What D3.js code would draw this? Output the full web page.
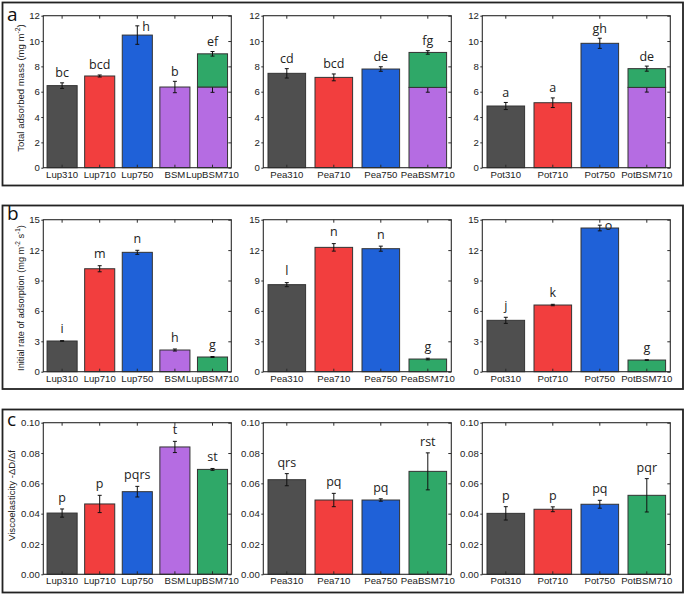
<!DOCTYPE html>
<html><head><meta charset="utf-8">
<script src="https://cdn.jsdelivr.net/npm/d3@7"></script>
<style>
html,body{margin:0;padding:0;background:#fff;}
svg{display:block;}
</style></head>
<body>
<svg id="chart" width="685" height="596"></svg>
<script>
// ---------------- DATA ----------------
const lupCats = ["Lup310", "Lup710", "Lup750", "BSM", "LupBSM710"];
const peaCats = ["Pea310", "Pea710", "Pea750", "PeaBSM710"];
const potCats = ["Pot310", "Pot710", "Pot750", "PotBSM710"];

// (a) Total adsorbed mass (mg m-2)
const massLup = [6.48, 7.24, 10.47, 6.37, 8.99];
const massLupErr = [0.22, 0.08, 0.73, 0.45, 0.18];
const massPea = [7.45, 7.13, 7.79, 9.10];
const massPeaErr = [0.37, 0.27, 0.18, 0.14];
const massPot = [4.87, 5.13, 9.82, 7.82];
const massPotErr = [0.28, 0.38, 0.40, 0.20];
// BSM share of the stacked BSM710 mixtures (Lup, Pea, Pot)
const massMixBSM = [6.37, 6.34, 6.34];
const massMixBSMErr = [0.42, 0.38, 0.37];
const massLupLetters = ["bc", "bcd", "h", "b", "ef"];
const massPeaLetters = ["cd", "bcd", "de", "fg"];
const massPotLetters = ["a", "a", "gh", "de"];

// (b) Initial rate of adsorption (mg m-2 s-1)
const rateLup = [3.03, 10.16, 11.78, 2.14, 1.45];
const rateLupErr = [0.03, 0.30, 0.20, 0.10, 0.05];
const ratePea = [8.59, 12.27, 12.14, 1.25];
const ratePeaErr = [0.20, 0.37, 0.25, 0.08];
const ratePot = [5.07, 6.58, 14.18, 1.15];
const ratePotErr = [0.30, 0.07, 0.28, 0.03];
const rateLupLetters = ["i", "m", "n", "h", "g"];
const ratePeaLetters = ["l", "n", "n", "g"];
const ratePotLetters = ["j", "k", "o", "g"];

// (c) Viscoelasticity -ΔD/Δf
const viscoLup = [0.0404, 0.0464, 0.0545, 0.0840, 0.0692];
const viscoLupErr = [0.0027, 0.0057, 0.0035, 0.0037, 0.0006];
const viscoPea = [0.0624, 0.0490, 0.0490, 0.0679];
const viscoPeaErr = [0.0040, 0.0044, 0.0008, 0.0122];
const viscoPot = [0.0402, 0.0429, 0.0462, 0.0521];
const viscoPotErr = [0.0044, 0.0016, 0.0026, 0.0110];
const viscoLupLetters = ["p", "p", "pqrs", "t", "st"];
const viscoPeaLetters = ["qrs", "pq", "pq", "rst"];
const viscoPotLetters = ["p", "p", "pq", "pqr"];

// tick values
const massTicks = [0, 2, 4, 6, 8, 10, 12];
const rateTicks = [0, 3, 6, 9, 12, 15];
const viscoTicks = [0, 0.02, 0.04, 0.06, 0.08, 0.10];

// ---------------- STYLE / LAYOUT ----------------
const palette = {"310": "#4f4f4f", "710": "#f23e3e", "750": "#1f61d8", "BSM": "#b56ce2", "BSM710": "#2fa868"};
function colorOf(cat) {
  if (/BSM710$/.test(cat)) return palette.BSM710;
  if (cat === "BSM") return palette.BSM;
  return palette[cat.slice(-3)];
}
const cols = [[43.3, 231.3], [263.3, 451.3], [482.3, 670.3]];
const catsByCol = [lupCats, peaCats, potCats];

const rows = [
  {letter: "a", box: [2.5, 185.5], plot: [15.7, 167.7], letterY: 20.5, domain: [0, 12], ticks: massTicks, fmt: d3.format("d"),
   vals: [massLup, massPea, massPot], errs: [massLupErr, massPeaErr, massPotErr],
   letters: [massLupLetters, massPeaLetters, massPotLetters], stacked: true,
   labelX: 23.5, labelY: 88, labelParts: [["Total adsorbed mass (mg m", 0], ["-2", 1], [")", 0]], labelSize: 9.6, gap: 5.5},
  {letter: "b", box: [205.5, 389], plot: [219.7, 371.7], letterY: 219.5, domain: [0, 15], ticks: rateTicks, fmt: d3.format("d"),
   vals: [rateLup, ratePea, ratePot], errs: [rateLupErr, ratePeaErr, ratePotErr],
   letters: [rateLupLetters, ratePeaLetters, ratePotLetters], stacked: false,
   labelX: 23.5, labelY: 298, labelParts: [["Initial rate of adsorption (mg m", 0], ["-2", 1], [" s", 0], ["-1", 1], [")", 0]], labelSize: 9.2, gap: 7.5},
  {letter: "c", box: [409.5, 592.5], plot: [422.7, 574.3], letterY: 425.5, domain: [0, 0.1], ticks: viscoTicks, fmt: d3.format(".2f"),
   vals: [viscoLup, viscoPea, viscoPot], errs: [viscoLupErr, viscoPeaErr, viscoPotErr],
   letters: [viscoLupLetters, viscoPeaLetters, viscoPotLetters], stacked: false,
   labelX: 15, labelY: 495.5, labelParts: [["Viscoelasticity -ΔD/Δf", 0]], labelSize: 9.6, gap: 7}
];

const svg = d3.select("#chart");
const axisFont = "'Liberation Sans', Arial, sans-serif";
const textFont = "'Open Sans', 'DejaVu Sans', sans-serif";
const frameColor = "#2b2b2b";

rows.forEach(row => {
  // panel box
  svg.append("rect").attr("x", 2.5).attr("y", row.box[0]).attr("width", 680.5).attr("height", row.box[1] - row.box[0])
    .attr("fill", "none").attr("stroke", "#222").attr("stroke-width", 1.8);
  // panel letter
  svg.append("text").attr("x", 7).attr("y", row.letterY).text(row.letter)
    .attr("font-family", textFont).attr("font-size", 19).attr("fill", "#111");
  // y label
  const lab = svg.append("text").attr("transform", `translate(${row.labelX},${row.labelY}) rotate(-90)`)
    .attr("text-anchor", "middle").attr("font-family", axisFont).attr("font-size", row.labelSize).attr("fill", "#222");
  row.labelParts.forEach(([t, sup], i) => {
    const ts = lab.append("tspan").text(t);
    if (sup) ts.attr("font-size", row.labelSize * 0.7).attr("dy", "-0.5em");
    else if (i > 0 && row.labelParts[i - 1][1]) ts.attr("dy", "0.35em");
  });

  cols.forEach((range, ci) => {
    const cats = catsByCol[ci];
    const vals = row.vals[ci], errs = row.errs[ci], lets = row.letters[ci];
    const x = d3.scaleBand().domain(cats).range(range).paddingInner(0.2).paddingOuter(0.1);
    const y = d3.scaleLinear().domain(row.domain).range([row.plot[1], row.plot[0]]);
    const g = svg.append("g");
    const data = cats.map((c, i) => ({cat: c, v: vals[i], e: errs[i], letter: lets[i], mix: /BSM710$/.test(c)}));

    // bars
    data.forEach(d => {
      const bx = x(d.cat), bw = x.bandwidth(), cx = bx + bw / 2;
      const drawErr = (v, e) => {
        const eg = g.append("g").attr("stroke", "#111").attr("stroke-width", 1);
        eg.append("line").attr("x1", cx).attr("x2", cx).attr("y1", y(v + e)).attr("y2", y(v - e));
        eg.append("line").attr("x1", cx - 2).attr("x2", cx + 2).attr("y1", y(v + e)).attr("y2", y(v + e));
        eg.append("line").attr("x1", cx - 2).attr("x2", cx + 2).attr("y1", y(v - e)).attr("y2", y(v - e));
      };
      if (row.stacked && d.mix) {
        const base = massMixBSM[ci], baseE = massMixBSMErr[ci];
        g.append("rect").attr("x", bx).attr("width", bw).attr("y", y(base)).attr("height", y(0) - y(base))
          .attr("fill", palette.BSM).attr("stroke", "#333").attr("stroke-width", 1);
        drawErr(base, baseE);
        g.append("rect").attr("x", bx).attr("width", bw).attr("y", y(d.v)).attr("height", y(base) - y(d.v))
          .attr("fill", palette.BSM710).attr("stroke", "#333").attr("stroke-width", 1);
      } else {
        g.append("rect").attr("x", bx).attr("width", bw).attr("y", y(d.v)).attr("height", y(0) - y(d.v))
          .attr("fill", colorOf(d.cat)).attr("stroke", "#333").attr("stroke-width", 1);
      }
      drawErr(d.v, d.e);
      // significance letter
      const errTop = y(d.v + d.e);
      let lx = cx, ly = errTop - row.gap, anchor = "middle";
      if (ly - 9 < row.plot[0]) { lx = cx + 5; ly = errTop + 5; anchor = "start"; }
      g.append("text").attr("x", lx).attr("y", ly).attr("text-anchor", anchor).text(d.letter)
        .attr("font-family", textFont).attr("font-size", 12.5).attr("fill", "#222");
    });

    // frame
    g.append("rect").attr("x", range[0]).attr("y", row.plot[0]).attr("width", range[1] - range[0])
      .attr("height", row.plot[1] - row.plot[0]).attr("fill", "none").attr("stroke", frameColor).attr("stroke-width", 1.1);

    // axes
    const yl = g.append("g").attr("transform", `translate(${range[0]},0)`)
      .call(d3.axisLeft(y).tickValues(row.ticks).tickFormat(row.fmt).tickSize(2).tickPadding(1.5));
    const yr = g.append("g").attr("transform", `translate(${range[1]},0)`)
      .call(d3.axisRight(y).tickValues(row.ticks).tickSize(-3).tickFormat(""));
    const xb = g.append("g").attr("transform", `translate(0,${row.plot[1]})`)
      .call(d3.axisBottom(x).tickSize(-3).tickPadding(3.2));
    const xt = g.append("g").attr("transform", `translate(0,${row.plot[0]})`)
      .call(d3.axisTop(x).tickSize(-3).tickFormat(""));
    [yl, yr, xb, xt].forEach(a => {
      a.select(".domain").remove();
      a.selectAll(".tick line").attr("stroke", frameColor).attr("stroke-width", 1);
      a.selectAll(".tick text").attr("font-family", axisFont).attr("font-size", 9.6).attr("fill", "#222");
    });
  });
});
</script>
</body></html>
